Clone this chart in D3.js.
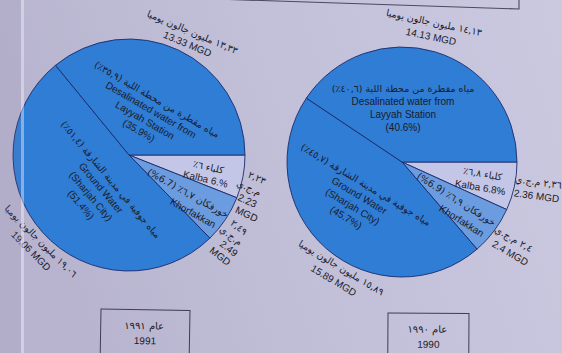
<!DOCTYPE html>
<html>
<head>
<meta charset="utf-8">
<script src="https://cdn.jsdelivr.net/npm/d3@7"></script>
<style>
  html, body { margin: 0; padding: 0; background: #c3c1da; }
  svg { display: block; }
</style>
</head>
<body>
<svg id="chart" width="562" height="353"></svg>
<script>
// Sources of drinking water in Sharjah, in million gallons per day (MGD)
const sourcesEn = ["Kalba", "Khorfakkan", "Ground Water (Sharjah City)", "Desalinated water from Layyah Station"];
const sourcesAr = ["كلباء", "خورفكان", "مياه جوفية في مدينة الشارقة", "مياه مقطرة من محطة اللية"];
const years = [1991, 1990];
const mgd1991 = [2.23, 2.49, 19.06, 13.33];
const mgd1990 = [2.36, 2.40, 15.89, 14.13];
const pct1991 = [6, 6.7, 51.4, 35.9];
const pct1990 = [6.8, 6.9, 45.7, 40.6];
const pctText1991 = ["6.", "6.7", "51.4", "35.9"];
const pctText1990 = ["6.8", "6.9", "45.7", "40.6"];
const sliceColors = ["#c3c6e6", "#6b9cdf", "#2f7dd5", "#2f7dd5"];

const W = 562, H = 353;
const svg = d3.select("#chart");

const AR_DIGITS = "٠١٢٣٤٥٦٧٨٩";
const toAr = v => String(v).replace(/[0-9]/g, d => AR_DIGITS[+d]).replace(".", ",");

// page background
const defs = svg.append("defs");
const bg = defs.append("linearGradient").attr("id", "paper").attr("x1", 0).attr("x2", 1).attr("y1", 0.2).attr("y2", 0);
bg.append("stop").attr("offset", "0%").attr("stop-color", "#b8b4cf");
bg.append("stop").attr("offset", "45%").attr("stop-color", "#c2c0d9");
bg.append("stop").attr("offset", "100%").attr("stop-color", "#cbc9e0");
svg.append("rect").attr("width", W).attr("height", H).attr("fill", "url(#paper)");

// frame of the block above
svg.append("path")
  .attr("d", "M215,-1 L519,9 L519,-2")
  .attr("fill", "none").attr("stroke", "#4b4a5f").attr("stroke-width", 1.1);

const pie = d3.pie().sort(null).value(d => d)
  .startAngle(Math.PI / 2).endAngle(Math.PI / 2 + 2 * Math.PI);

const textColor = "#1b1b2b";
const enFont = "'Liberation Sans', Arial, sans-serif";
const arFont = "'DejaVu Sans', sans-serif";

function block(g, spec) {
  const b = g.append("g").attr("transform", `translate(${spec.x},${spec.y}) rotate(${spec.rot})`);
  const n = spec.lines.length;
  spec.lines.forEach((ln, i) => {
    const t = b.append("text")
      .attr("x", (spec.shift && spec.shift[i]) || 0)
      .attr("y", (i - (n - 1) / 2) * spec.lh)
      .attr("text-anchor", "middle")
      .attr("dominant-baseline", "central")
      .attr("fill", textColor)
      .text(ln.t);
    if (ln.ar) {
      t.attr("font-family", arFont).attr("font-size", spec.arSize || 9.5).style("direction", "rtl");
    } else {
      t.attr("font-family", enFont).attr("font-size", spec.enSize || 10);
    }
  });
}

function drawPie(cfg) {
  const g = svg.append("g").attr("transform", `translate(${cfg.cx},${cfg.cy})`);
  const arc = d3.arc().innerRadius(0).outerRadius(cfg.r);
  g.selectAll("path.slice").data(pie(cfg.values)).join("path")
    .attr("class", "slice")
    .attr("d", arc)
    .attr("fill", (d, i) => sliceColors[i])
    .attr("stroke", "#1c2a6c").attr("stroke-width", 0.9);

  const v = cfg.values, p = cfg.pct, pt = cfg.pctText;
  const inner = [
    [{ t: `${sourcesAr[0]} ${toAr(p[0])}٪`, ar: true }, { t: `Kalba ${pt[0]}%` }],
    [{ t: `${sourcesAr[1]} ${toAr(p[1])}٪ (${pt[1]}%)`, ar: true }, { t: "Khorfakkan" }],
    [{ t: `${sourcesAr[2]} (${toAr(p[2])}٪)`, ar: true }, { t: "Ground Water" }, { t: "(Sharjah City)" }, { t: `(${pt[2]}%)` }],
    [{ t: `${sourcesAr[3]} (${toAr(p[3])}٪)`, ar: true }, { t: "Desalinated water from" }, { t: "Layyah Station" }, { t: `(${pt[3]}%)` }]
  ];
  cfg.inner.forEach((s, i) => block(g, Object.assign({ lines: inner[i] }, s)));

  const outer = cfg.outerStacked
    ? [
        [{ t: toAr(v[0]), ar: true }, { t: "م.ج.ي", ar: true }, { t: String(v[0]) }, { t: "MGD" }],
        [{ t: toAr(v[1]), ar: true }, { t: "م.ج.ي", ar: true }, { t: String(v[1]) }, { t: "MGD" }]
      ]
    : [
        [{ t: `${toAr(v[0])} م.ج.ي`, ar: true }, { t: `${v[0]} MGD` }],
        [{ t: `${toAr(v[1])} م.ج.ي`, ar: true }, { t: `${v[1]} MGD` }]
      ];
  outer.push([{ t: `${toAr(v[2])} مليون جالون يوميا`, ar: true }, { t: `${v[2]} MGD` }]);
  outer.push([{ t: `${toAr(v[3])} مليون جالون يوميا`, ar: true }, { t: `${v[3]} MGD` }]);
  cfg.outer.forEach((s, i) => block(g, Object.assign({ lines: outer[i] }, s)));
}

drawPie({
  cx: 129, cy: 155, r: 116,
  values: mgd1991, pct: pct1991, pctText: pctText1991, outerStacked: true,
  inner: [
    { x: 78, y: 18, rot: 13, lh: 12.5 },
    { x: 61.5, y: 48, rot: 29, lh: 15, shift: [-7, 7] },
    { x: -33, y: 37, rot: 50, lh: 13 },
    { x: 19, y: -40, rot: 30, lh: 12 }
  ],
  outer: [
    { x: 121, y: 40, rot: 25, lh: 12.5, shift: [-1, -4, 0, 5] },
    { x: 101, y: 87, rot: 38, lh: 11.5, shift: [-2, -3, 3, 1] },
    { x: -93, y: 91, rot: 45, lh: 14 },
    { x: 61, y: -117, rot: 23, lh: 13 }
  ]
});

drawPie({
  cx: 402, cy: 162, r: 115,
  values: mgd1990, pct: pct1990, pctText: pctText1990, outerStacked: false,
  inner: [
    { x: 79.5, y: 18.5, rot: 10, lh: 14 },
    { x: 57, y: 48, rot: 32, lh: 15.5, shift: [-8, 8] },
    { x: -46, y: 39, rot: 31, lh: 12.8 },
    { x: 1, y: -54, rot: 0, lh: 13 }
  ],
  outer: [
    { x: 135.5, y: 27, rot: 8, lh: 14 },
    { x: 110, y: 84, rot: 30, lh: 14, shift: [-2, 2] },
    { x: -64.5, y: 112, rot: 31, lh: 15 },
    { x: 30.5, y: -132.5, rot: 12, lh: 14.5 }
  ]
});

// year captions
const yearBoxes = [
  { x: 101, y: 309, w: 89, h: 50, rot: 1 },
  { x: 388, y: 313, w: 81, h: 46, rot: 0.3 }
];
years.forEach((yr, i) => {
  const b = yearBoxes[i];
  const g = svg.append("g").attr("transform", `translate(${b.x},${b.y}) rotate(${b.rot})`);
  g.append("rect").attr("width", b.w).attr("height", b.h)
    .attr("fill", "none").attr("stroke", "#3e3d52").attr("stroke-width", 1);
  g.append("text").attr("x", b.w / 2 - 1).attr("y", 16)
    .attr("text-anchor", "middle").attr("dominant-baseline", "central")
    .attr("font-family", arFont).attr("font-size", 10).attr("fill", textColor)
    .style("direction", "rtl").text(`عام ${toAr(yr)}`);
  g.append("text").attr("x", b.w / 2).attr("y", 31)
    .attr("text-anchor", "middle").attr("dominant-baseline", "central")
    .attr("font-family", enFont).attr("font-size", 10).attr("fill", textColor)
    .text(String(yr));
});

// binding edge on the left of the page
svg.append("rect").attr("x", 0).attr("y", 0).attr("width", 21).attr("height", H)
  .attr("fill", "#8a7f9a").attr("opacity", 0.12);
svg.append("rect").attr("x", 21).attr("y", 0).attr("width", 3).attr("height", H)
  .attr("fill", "#eef0ff").attr("opacity", 0.45);
</script>
</body>
</html>
